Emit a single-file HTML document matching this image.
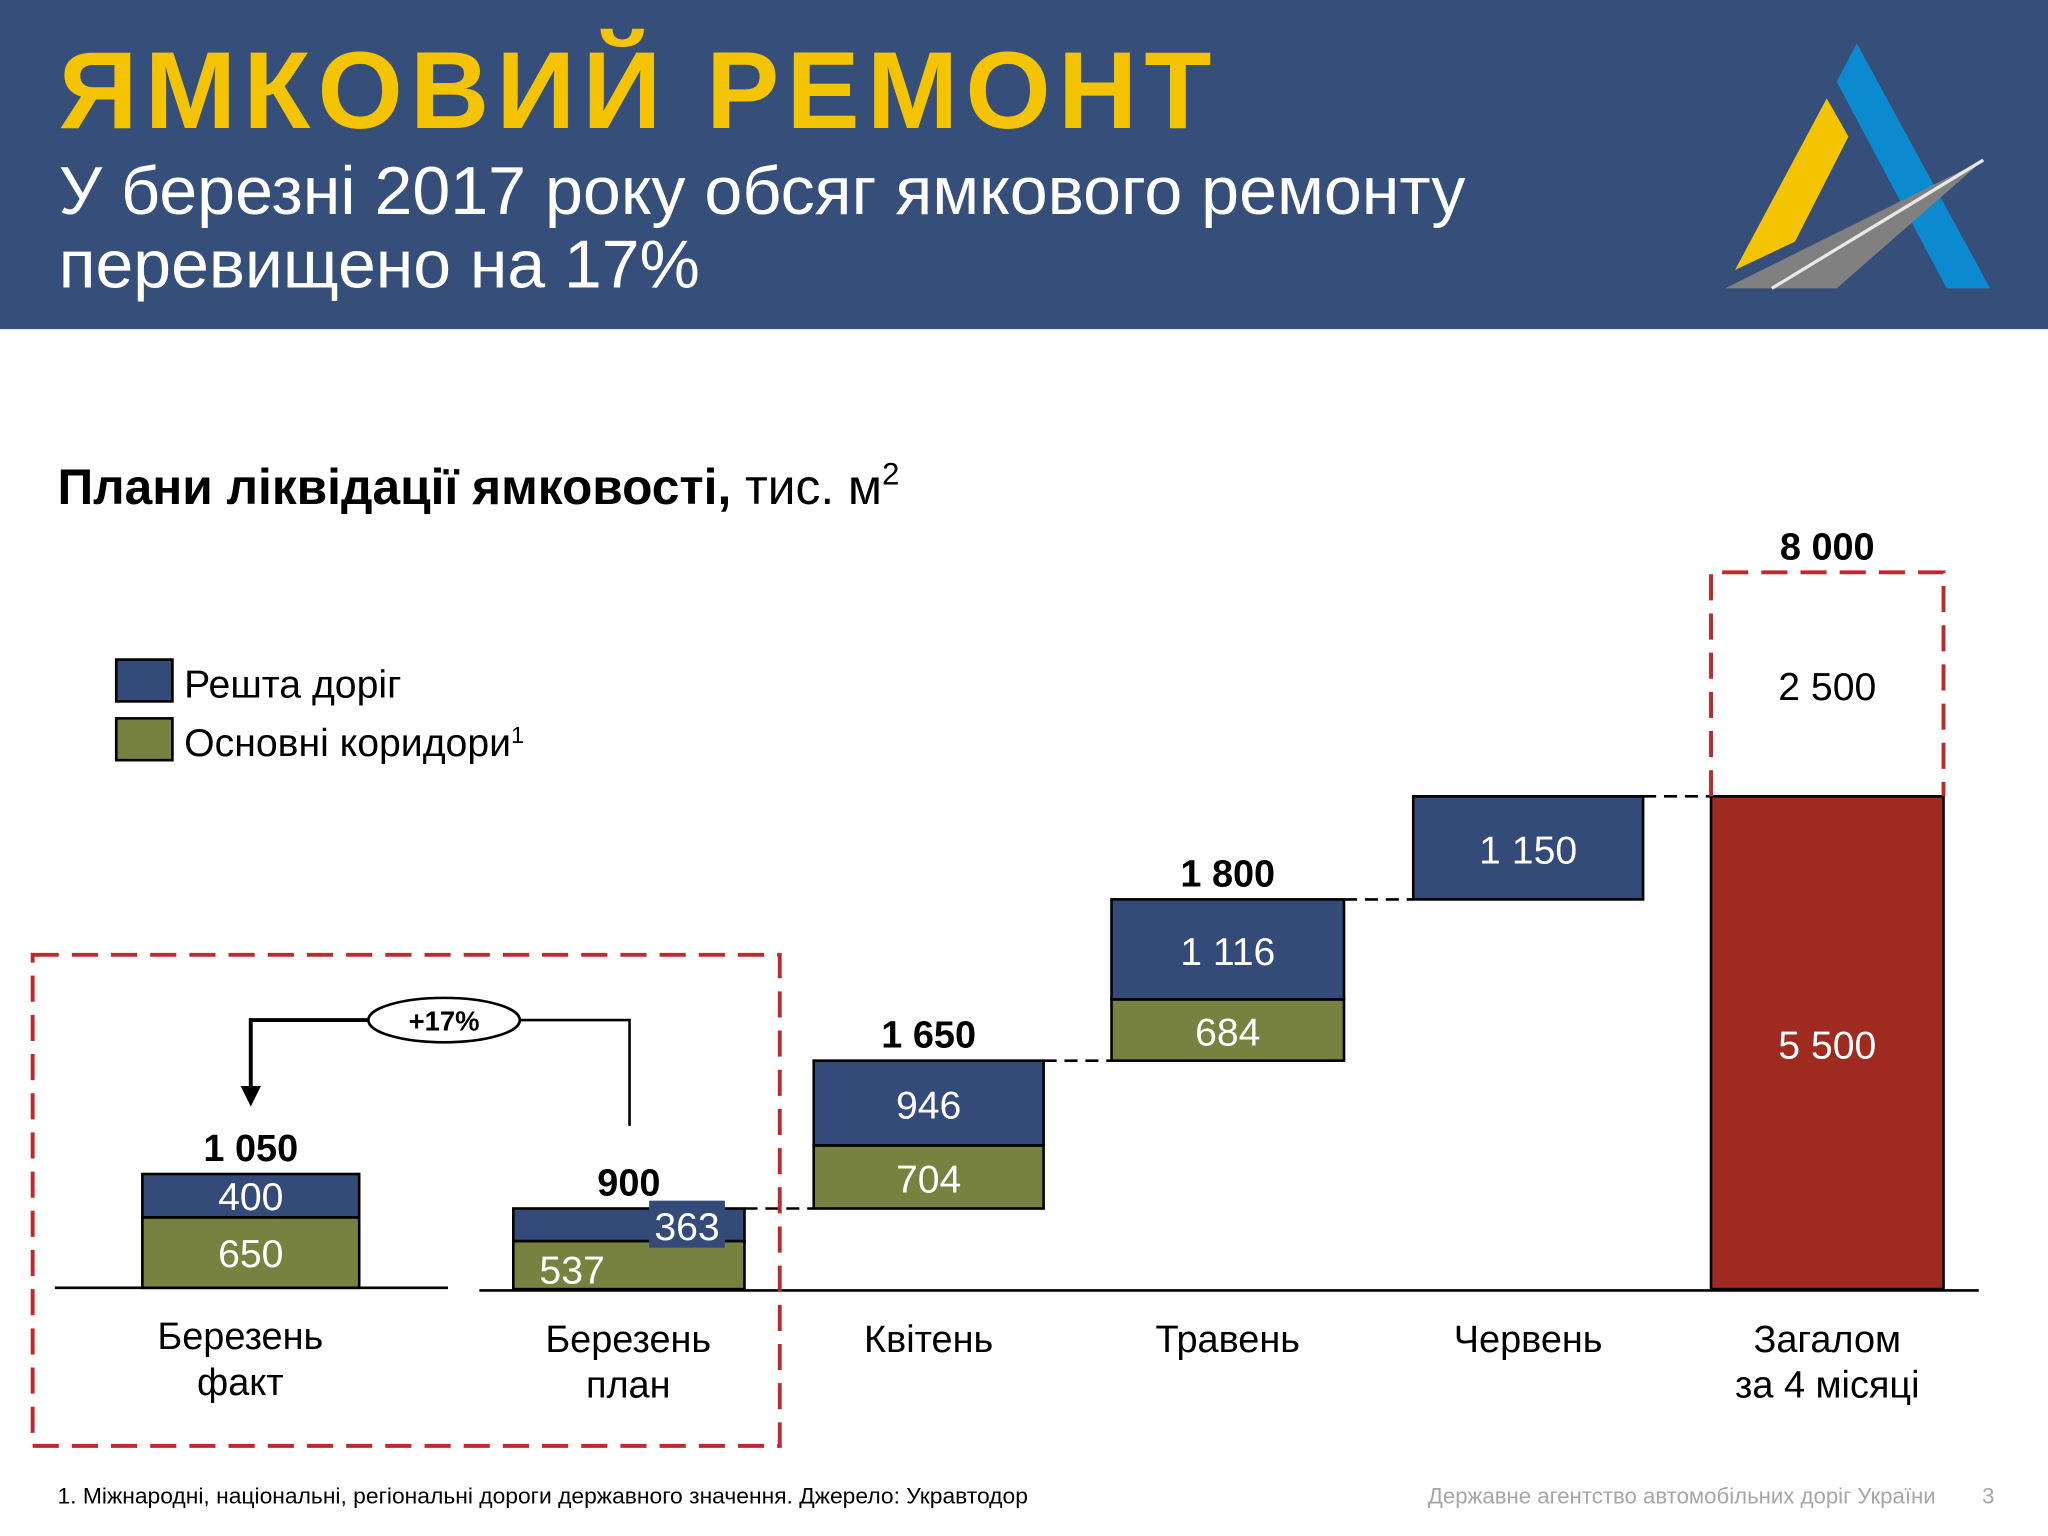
<!DOCTYPE html>
<html><head><meta charset="utf-8"><style>
html,body{margin:0;padding:0;background:#fff;}
svg{display:block;font-family:"Liberation Sans",sans-serif;}
</style></head><body>
<svg id="chart" width="2048" height="1536" viewBox="0 0 1568 1176" xmlns="http://www.w3.org/2000/svg">
<rect x="0" y="0" width="1568" height="252" fill="#364e7a"/>
<text x="45" y="98" font-size="84" font-weight="bold" fill="#f5c400" letter-spacing="5.5">ЯМКОВИЙ РЕМОНТ</text>
<text x="45" y="164" font-size="52" fill="#fff" textLength="1077" lengthAdjust="spacingAndGlyphs">У березні 2017 року обсяг ямкового ремонту</text>
<text x="45" y="220" font-size="52" fill="#fff">перевищено на 17%</text>
<g>
<polygon points="1421.6,33.2 1406.2,62.5 1490.5,220.8 1523.7,220.8" fill="#0c8ad0"/>
<polygon points="1398.6,75.3 1415.2,104.6 1374.3,185 1328.4,206.7" fill="#f5c400"/>
<polygon points="1320.8,220.8 1518.5,122.5 1406.2,220.8" fill="#808080"/>
<line x1="1356.5" y1="220.8" x2="1518.5" y2="122.5" stroke="#e8e8e8" stroke-width="2.5"/>
</g>
<text x="44" y="386" font-size="38" fill="#000"><tspan font-weight="bold">Плани ліквідації ямковості,</tspan> тис. м<tspan font-size="24" dy="-15">2</tspan></text>
<rect x="89" y="505" width="43" height="32" fill="#344b7a" stroke="#000" stroke-width="2"/>
<text x="141" y="534" font-size="30">Решта доріг</text>
<rect x="89" y="550" width="43" height="32" fill="#788240" stroke="#000" stroke-width="2"/>
<text x="141" y="579" font-size="30">Основні коридори<tspan font-size="18" dy="-10">1</tspan></text>
<g id="marks"></g>
<rect x="25" y="731" width="572" height="376" fill="none" stroke="#c0282d" stroke-width="3" stroke-dasharray="20 10"/>
<g stroke="#000" fill="none">
<polyline points="282,781 192,781 192,835" stroke-width="3"/>
<polygon points="185,832 199,832 192,846" fill="#000"/>
<polyline points="398,781 482,781 482,862" stroke-width="2"/>
<ellipse cx="340" cy="781" rx="58" ry="17" fill="#fff" stroke-width="2"/>
</g>
<text x="340" y="789" font-size="21" font-weight="bold" text-anchor="middle">+17%</text>
<text x="44" y="1151" font-size="17" textLength="743" lengthAdjust="spacingAndGlyphs">1. Міжнародні, національні, регіональні дороги державного значення. Джерело: Укравтодор</text>
<text x="1482" y="1151" font-size="17" fill="#a6a6a6" text-anchor="end">Державне агентство автомобільних доріг України</text>
<text x="1527" y="1151" font-size="17" fill="#a6a6a6" text-anchor="end">3</text>
</svg>
<script>
const categories = [["Березень","факт"],["Березень","план"],["Квітень"],["Травень"],["Червень"],["Загалом","за 4 місяці"]];
const mainCorridors = [650, 537, 704, 684, 0, 0];
const otherRoads = [400, 363, 946, 1116, 1150, 0];
const totals = [1050, 900, 1650, 1800, 1150, 5500];
const target = 8000;
const totalLabels = ["1 050","900","1 650","1 800","","8 000"];
const valueLabels = {"650":"650","400":"400","537":"537","363":"363","704":"704","946":"946","684":"684","1116":"1 116","1150":"1 150","5500":"5 500","2500":"2 500"};

const NS="http://www.w3.org/2000/svg";
const g=document.getElementById('marks');
function el(tag,attrs,txt){const e=document.createElementNS(NS,tag);for(const k in attrs)e.setAttribute(k,attrs[k]);if(txt!==undefined)e.textContent=txt;g.appendChild(e);return e;}
const base=987, k=0.0686, k1=0.083, base1=986;
const barX=[109,393,623,851,1082,1310], barW=[166,177,176,178,176,178];
const centers=barX.map((x,i)=>x+barW[i]/2);
function y(v){return base-v*k;}
function fmt(v){return valueLabels[String(v)]||String(v);}

let l=el('line',{x1:42,y1:base1,x2:343,y2:base1,stroke:'#000','stroke-width':2});


l=el('line',{x1:367,y1:base+1,x2:1515,y2:base+1,stroke:'#000','stroke-width':2});



{
 const gh=mainCorridors[0]*k1, bh=otherRoads[0]*k1;
 let r=el('rect',{x:barX[0],y:base1-gh,width:barW[0],height:gh,fill:'#788240',stroke:'#000','stroke-width':2});
 
 
 r=el('rect',{x:barX[0],y:base1-gh-bh,width:barW[0],height:bh,fill:'#344b7a',stroke:'#000','stroke-width':2});
 
 
 let t=el('text',{x:centers[0],y:base1-gh/2+11,'font-size':30,fill:'#fff','text-anchor':'middle'},fmt(mainCorridors[0]));
 
 
 t=el('text',{x:centers[0],y:base1-gh-bh/2+11,'font-size':30,fill:'#fff','text-anchor':'middle'},fmt(otherRoads[0]));
 
 
 t=el('text',{x:centers[0],y:base1-gh-bh-10,'font-size':29,'font-weight':'bold','text-anchor':'middle'},totalLabels[0]);
 
 
}
let cum=0;
for(let i=1;i<5;i++){
 const start = i===1?0:cum;
 const gy0=y(start), gy1=y(start+mainCorridors[i]), by1=y(start+mainCorridors[i]+otherRoads[i]);
 if(mainCorridors[i]>0){
  let r=el('rect',{x:barX[i],y:gy1,width:barW[i],height:gy0-gy1,fill:'#788240',stroke:'#000','stroke-width':2});
  
  
 }
 let r=el('rect',{x:barX[i],y:by1,width:barW[i],height:gy1-by1,fill:'#344b7a',stroke:'#000','stroke-width':2});
 
 
 if(i===1){
  let t=el('text',{x:barX[i]+20,y:(gy0+gy1)/2+14,'font-size':30,fill:'#fff'},fmt(mainCorridors[i]));
  
  
  let bx=el('rect',{x:barX[i]+104,y:by1-6,width:58,height:36,fill:'#344b7a'});
  
  
  t=el('text',{x:barX[i]+133,y:by1+24,'font-size':30,fill:'#fff','text-anchor':'middle'},fmt(otherRoads[i]));
  
  
 } else {
  if(mainCorridors[i]>0){
   let t=el('text',{x:centers[i],y:(gy0+gy1)/2+12,'font-size':30,fill:'#fff','text-anchor':'middle'},fmt(mainCorridors[i]));
   
   
  }
  let t=el('text',{x:centers[i],y:(gy1+by1)/2+12,'font-size':30,fill:'#fff','text-anchor':'middle'},fmt(otherRoads[i]));
  
  
 }
 if(totalLabels[i]){
  let t=el('text',{x:centers[i],y:by1-10,'font-size':29,'font-weight':'bold','text-anchor':'middle'},totalLabels[i]);
  
  
 }
 cum = start+mainCorridors[i]+otherRoads[i];
 let c=el('line',{x1:barX[i]+barW[i],y1:y(cum),x2:barX[i+1],y2:y(cum),stroke:'#000','stroke-width':2,'stroke-dasharray':'10 6'});
 
 
}
{
 const i=5;
 let r=el('rect',{x:barX[i],y:y(totals[i]),width:barW[i],height:base-y(totals[i]),fill:'#9e2a20',stroke:'#000','stroke-width':2});
 
 
 let t=el('text',{x:centers[i],y:(base+y(totals[i]))/2+12,'font-size':30,fill:'#fff','text-anchor':'middle'},fmt(totals[i]));
 
 
 const top=y(target), mid=y(totals[i]);
 let p=el('path',{d:`M${barX[i]} ${mid} V${top} H${barX[i]+barW[i]} V${mid}`,fill:'none',stroke:'#c0282d','stroke-width':3,'stroke-dasharray':'20 10'});
 
 
 t=el('text',{x:centers[i],y:(top+mid)/2+12,'font-size':30,'text-anchor':'middle'},fmt(target-totals[i]));
 
 
 t=el('text',{x:centers[i],y:top-10,'font-size':29,'font-weight':'bold','text-anchor':'middle'},totalLabels[i]);
 
 
}
const catCenters=[184,481,711,940,1170,1399];
categories.forEach((c,i)=>{
 c.forEach((s,j)=>{
  let t=el('text',{x:catCenters[i],y:1035+j*35+(i===0?-2:0),'font-size':29,'text-anchor':'middle'},s);
  
  
 });
});
</script>
</body></html>
